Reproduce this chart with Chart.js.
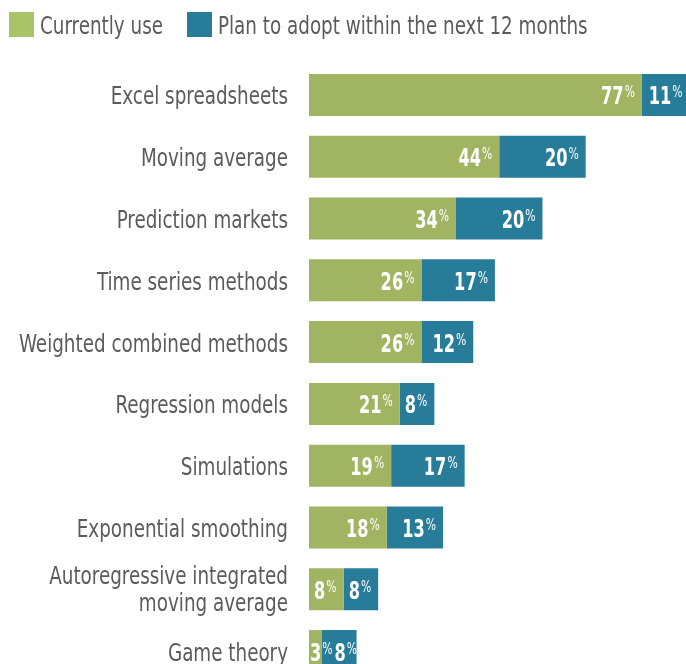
<!DOCTYPE html>
<html>
<head>
<meta charset="utf-8">
<script src="https://cdn.jsdelivr.net/npm/chart.js@4.4.1/dist/chart.umd.min.js"></script>
<style>
  html, body { margin: 0; padding: 0; background: #fff; overflow: hidden; }
  #grafico { display: block; }
</style>
</head>
<body>
<canvas id="grafico" width="686" height="682"></canvas>
<script>
const categorias = [
  'Excel spreadsheets',
  'Moving average',
  'Prediction markets',
  'Time series methods',
  'Weighted combined methods',
  'Regression models',
  'Simulations',
  'Exponential smoothing',
  ['Autoregressive integrated', 'moving average'],
  'Game theory'
];
const usoActual = [77, 44, 34, 26, 26, 21, 19, 18, 8, 3];
const planAdoptar = [11, 20, 20, 17, 12, 8, 17, 13, 8, 8];
const nombresSeries = ['Currently use', 'Plan to adopt within the next 12 months'];

const VERDE = '#a0b461';
const VERDE_LEYENDA = '#a9c468';
const AZUL = '#277c9a';
const GRIS = '#5b5b5b';
const FUENTE = "'DejaVu Sans Condensed', 'DejaVu Sans', sans-serif";
const ESTRECHO = 0.815;   // la fuente original es muy condensada
const ESTRECHO_NUM = 0.72;

// texto comprimido en horizontal
function textoEstrecho(ctx, texto, x, y, escala, alinear) {
  const w = ctx.measureText(texto).width * escala;
  let x0 = x;
  if (alinear === 'right') x0 = x - w;
  ctx.save();
  ctx.translate(x0, y);
  ctx.scale(escala, 1);
  ctx.textAlign = 'left';
  ctx.fillText(texto, 0, 0);
  ctx.restore();
  return w;
}

const pluginLeyenda = {
  id: 'leyenda',
  afterDraw(chart) {
    const ctx = chart.ctx;
    ctx.save();
    ctx.font = '25px ' + FUENTE;
    ctx.textBaseline = 'alphabetic';
    const colores = [VERDE_LEYENDA, AZUL];
    let x = 9;
    chart.data.datasets.forEach((ds, i) => {
      ctx.fillStyle = colores[i];
      ctx.fillRect(x, 12, 25, 25);
      ctx.fillStyle = GRIS;
      const w = textoEstrecho(ctx, ds.label, x + 31, 34, ESTRECHO);
      x += 31 + w + 24;
    });
    ctx.restore();
  }
};

// nombres de categoria a la izquierda de las barras
const pluginCategorias = {
  id: 'categorias',
  afterDraw(chart) {
    const ctx = chart.ctx;
    const escalaY = chart.scales.y;
    ctx.save();
    ctx.font = '25px ' + FUENTE;
    ctx.fillStyle = GRIS;
    ctx.textBaseline = 'alphabetic';
    chart.data.labels.forEach((lab, i) => {
      const y = escalaY.getPixelForValue(i);
      if (Array.isArray(lab)) {
        textoEstrecho(ctx, lab[0], 288, y - 5.5, ESTRECHO, 'right');
        textoEstrecho(ctx, lab[1], 288, y + 21.5, ESTRECHO, 'right');
      } else {
        textoEstrecho(ctx, lab, 288, y + 9.5, ESTRECHO, 'right');
      }
    });
    ctx.restore();
  }
};

// etiquetas blancas con el % pequeno
const pluginEtiquetas = {
  id: 'etiquetas',
  afterDatasetsDraw(chart) {
    const ctx = chart.ctx;
    ctx.save();
    ctx.fillStyle = '#fff';
    ctx.textBaseline = 'alphabetic';
    const finPrevio = [];
    chart.data.datasets.forEach((ds, i) => {
      const meta = chart.getDatasetMeta(i);
      meta.data.forEach((bar, j) => {
        const num = String(ds.data[j]);
        ctx.font = 'bold 25px ' + FUENTE;
        const wNum = ctx.measureText(num).width * ESTRECHO_NUM;
        ctx.font = '16px ' + FUENTE;
        const wPct = ctx.measureText('%').width * 0.75;
        let izq = bar.x - 7 - wNum - wPct - 1;
        let minimo = bar.base + 1;
        if (finPrevio[j] !== undefined) minimo = Math.max(minimo, finPrevio[j] + 2);
        if (izq < minimo) izq = minimo;
        ctx.font = 'bold 25px ' + FUENTE;
        textoEstrecho(ctx, num, izq, bar.y + 9.5, ESTRECHO_NUM);
        ctx.font = '16px ' + FUENTE;
        textoEstrecho(ctx, '%', izq + wNum + 1, bar.y + 2.5, 0.75);
        finPrevio[j] = izq + wNum + 1 + wPct;
      });
    });
    ctx.restore();
  }
};

new Chart(document.getElementById('grafico'), {
  type: 'bar',
  data: {
    labels: categorias,
    datasets: [
      { label: nombresSeries[0], data: usoActual, backgroundColor: VERDE },
      { label: nombresSeries[1], data: planAdoptar, backgroundColor: AZUL }
    ]
  },
  options: {
    indexAxis: 'y',
    responsive: false,
    animation: false,
    layout: { padding: { top: 64, left: 0, right: 0, bottom: 0 } },
    datasets: { bar: { barPercentage: 0.68, categoryPercentage: 1 } },
    plugins: {
      legend: { display: false },
      tooltip: { enabled: false }
    },
    scales: {
      x: {
        stacked: true,
        display: false,
        min: 0,
        max: 87.2
      },
      y: {
        stacked: true,
        border: { display: false },
        grid: { display: false, drawTicks: false },
        ticks: { display: false },
        afterFit(scale) { scale.width = 309; }
      }
    }
  },
  plugins: [pluginLeyenda, pluginCategorias, pluginEtiquetas]
});
</script>
</body>
</html>
